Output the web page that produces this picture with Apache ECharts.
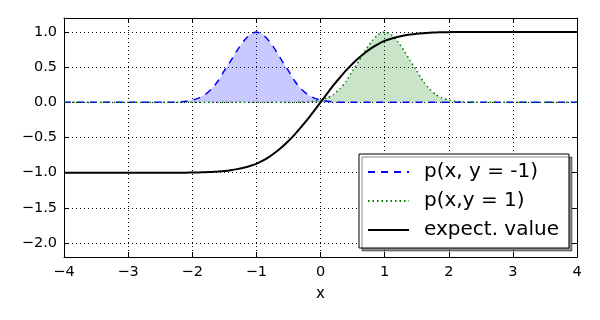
<!DOCTYPE html>
<html>
<head>
<meta charset="utf-8">
<script src="https://cdn.jsdelivr.net/npm/echarts@6/dist/echarts.min.js"></script>
<style>
    html, body { margin: 0; padding: 0; background: #fff; }
    #chart { width: 600px; height: 320px; }
</style>
</head>
<body>
<div id="chart"></div>
<script>
// x positions of the samples
let xs = [-4.0, -3.9, -3.8, -3.7, -3.6, -3.5, -3.4, -3.3, -3.2, -3.1,
    -3.0, -2.9, -2.8, -2.7, -2.6, -2.5, -2.4, -2.3, -2.2, -2.1,
    -2.0, -1.9, -1.8, -1.7, -1.6, -1.5, -1.4, -1.3, -1.2, -1.1,
    -1.0, -0.9, -0.8, -0.7, -0.6, -0.5, -0.4, -0.3, -0.2, -0.1,
    0.0, 0.1, 0.2, 0.3, 0.4, 0.5, 0.6, 0.7, 0.8, 0.9,
    1.0, 1.1, 1.2, 1.3, 1.4, 1.5, 1.6, 1.7, 1.8, 1.9,
    2.0, 2.1, 2.2, 2.3, 2.4, 2.5, 2.6, 2.7, 2.8, 2.9,
    3.0, 3.1, 3.2, 3.3, 3.4, 3.5, 3.6, 3.7, 3.8, 3.9, 4.0];

// p(x, y = -1)
let pNeg = [0, 0, 0, 0, 0, 0, 0, 0, 0, 0,
    0, 0, 0, 0, 0, 0, 0.001, 0.003, 0.007, 0.016,
    0.033, 0.06, 0.11, 0.19, 0.30, 0.45, 0.59, 0.74, 0.87, 0.965,
    1.0, 0.965, 0.87, 0.74, 0.59, 0.45, 0.30, 0.19, 0.11, 0.06,
    0.033, 0.016, 0.007, 0.003, 0.001, 0, 0, 0, 0, 0,
    0, 0, 0, 0, 0, 0, 0, 0, 0, 0,
    0, 0, 0, 0, 0, 0, 0, 0, 0, 0,
    0, 0, 0, 0, 0, 0, 0, 0, 0, 0, 0];

// p(x, y = 1)
let pPos = [0, 0, 0, 0, 0, 0, 0, 0, 0, 0,
    0, 0, 0, 0, 0, 0, 0, 0, 0, 0,
    0, 0, 0, 0, 0, 0, 0, 0, 0, 0,
    0, 0, 0, 0, 0, 0, 0.001, 0.003, 0.007, 0.016,
    0.033, 0.06, 0.11, 0.19, 0.30, 0.45, 0.59, 0.74, 0.87, 0.965,
    1.0, 0.965, 0.87, 0.74, 0.59, 0.45, 0.30, 0.19, 0.11, 0.06,
    0.033, 0.016, 0.007, 0.003, 0.001, 0, 0, 0, 0, 0,
    0, 0, 0, 0, 0, 0, 0, 0, 0, 0, 0];

// expect. value
let expect = [-1, -1, -1, -1, -1, -1, -1, -1, -1, -1,
    -1, -1, -1, -1, -1, -1, -1, -1, -1, -1,
    -0.999, -0.997, -0.994, -0.99, -0.984, -0.976, -0.965, -0.95, -0.93, -0.905,
    -0.875, -0.83, -0.775, -0.71, -0.635, -0.55, -0.455, -0.35, -0.24, -0.12,
    0, 0.12, 0.24, 0.35, 0.455, 0.55, 0.635, 0.71, 0.775, 0.83,
    0.875, 0.905, 0.93, 0.95, 0.965, 0.976, 0.984, 0.99, 0.994, 0.997,
    0.999, 1, 1, 1, 1, 1, 1, 1, 1, 1,
    1, 1, 1, 1, 1, 1, 1, 1, 1, 1, 1];

let yTicks = [-2.0, -1.5, -1.0, -0.5, 0.0, 0.5, 1.0];
let legendNames = ['p(x, y = -1)', 'p(x,y = 1)', 'expect. value'];

function pairs(ys) {
    return xs.map((x, i) => [x, ys[i]]);
}

function minus(s) {
    return String(s).replace('-', '\u2212');
}

let font = 'DejaVu Sans';
let myChart = echarts.init(document.getElementById('chart'));

function xAx(pos, show) {
    return {
        type: 'value',
        position: pos,
        min: -4,
        max: 4,
        interval: 1,
        axisLine: { show: true, onZero: false, lineStyle: { color: '#000', width: 1 } },
        axisTick: { show: true, inside: true, length: 5, lineStyle: { color: '#000' } },
        axisLabel: {
            show: show,
            color: '#000',
            fontFamily: font,
            fontSize: 14.5,
            margin: 8,
            formatter: v => minus(v)
        },
        splitLine: { show: show, lineStyle: { color: '#000', type: [1, 3], width: 1 } },
        name: show ? 'x' : '',
        nameLocation: 'middle',
        nameGap: 30,
        nameTextStyle: { color: '#000', fontFamily: font, fontSize: 15 }
    };
}

function yAx(pos, show) {
    return {
        type: 'value',
        position: pos,
        min: -2.2,
        max: 1.2,
        axisLine: { show: true, onZero: false, lineStyle: { color: '#000', width: 1 } },
        axisTick: { show: true, inside: true, length: 5, customValues: yTicks, lineStyle: { color: '#000' } },
        axisLabel: {
            show: show,
            customValues: yTicks,
            color: '#000',
            fontFamily: font,
            fontSize: 14.5,
            margin: 7,
            formatter: v => minus(v.toFixed(1))
        },
        splitLine: { show: show, lineStyle: { color: '#000', type: [1, 3], width: 1 } }
    };
}

let option = {
    animation: false,
    backgroundColor: '#fff',
    grid: { left: 64, right: 23, top: 18, bottom: 63 },
    xAxis: [xAx('bottom', true), xAx('top', false)],
    yAxis: [yAx('left', true), yAx('right', false)],
    legend: {
        data: legendNames,
        orient: 'vertical',
        left: 359,
        top: 154,
        padding: [8, 10, 8, 8],
        itemGap: 9,
        itemWidth: 41,
        itemHeight: 14,
        backgroundColor: '#fff',
        borderColor: '#000',
        borderWidth: 1,
        borderRadius: 0,
        shadowColor: 'rgba(0,0,0,0.45)',
        shadowBlur: 0,
        shadowOffsetX: 3,
        shadowOffsetY: 3,
        // hide the marker that line series put in the middle of the icon
        itemStyle: { color: 'rgba(0,0,0,0)', borderWidth: 0, opacity: 0 },
        textStyle: {
            color: '#000',
            fontFamily: font,
            fontSize: 20,
            padding: [0, 0, 0, 10]
        }
    },
    series: [{
        name: 'fillNeg',
        type: 'line',
        data: pairs(pNeg),
        showSymbol: false,
        symbol: 'none',
        smooth: 0.2,
        lineStyle: { width: 0 },
        areaStyle: { color: 'rgba(0,0,255,0.3)', origin: 0 },
        z: 2
    }, {
        name: 'fillPos',
        type: 'line',
        data: pairs(pPos),
        showSymbol: false,
        symbol: 'none',
        smooth: 0.2,
        lineStyle: { width: 0 },
        areaStyle: { color: 'rgba(0,128,0,0.3)', origin: 0 },
        z: 2
    }, {
        name: legendNames[0],
        type: 'line',
        data: pairs(pNeg),
        symbol: 'none',
        smooth: 0.2,
        color: '#0000ff',
        lineStyle: { color: '#0000ff', width: 1.5, type: [7, 6] },
        z: 3
    }, {
        name: legendNames[1],
        type: 'line',
        data: pairs(pPos),
        symbol: 'none',
        smooth: 0.2,
        color: '#008000',
        lineStyle: { color: '#008000', width: 1.5, type: [1.5, 3] },
        z: 3
    }, {
        name: legendNames[2],
        type: 'line',
        data: pairs(expect),
        symbol: 'none',
        smooth: 0.2,
        color: '#000',
        lineStyle: { color: '#000', width: 2 },
        z: 4
    }]
};
myChart.setOption(option);
</script>
</body>
</html>
